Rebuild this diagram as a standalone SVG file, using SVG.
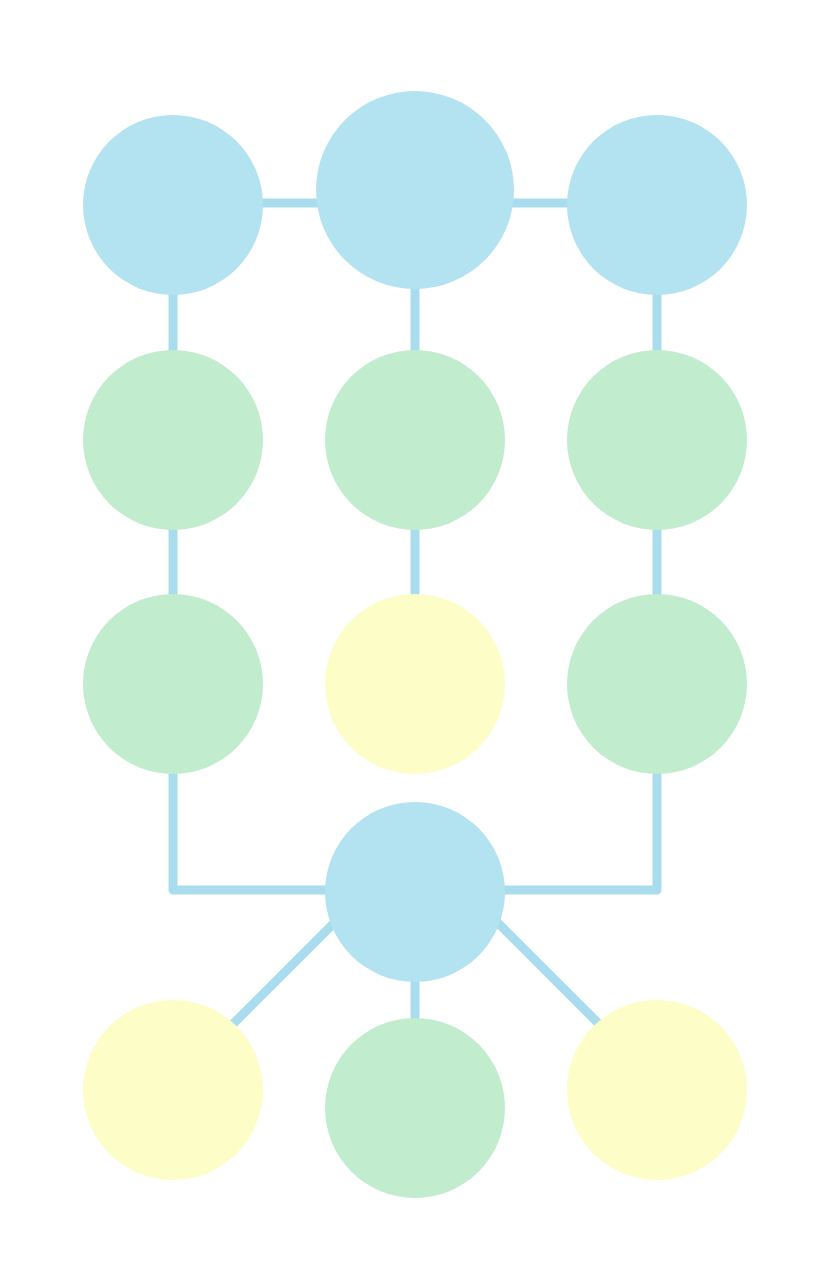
<svg xmlns="http://www.w3.org/2000/svg" width="832" height="1280" viewBox="0 0 832 1280">
<style>
.c{fill:none;stroke:#A9DDEE;stroke-width:9;stroke-linecap:round;stroke-linejoin:round}
.b{fill:#B3E2F1}
.g{fill:#C1ECCD}
.y{fill:#FDFDC8}
</style>
<rect width="832" height="1280" fill="#FFFFFF"/>
<g id="connectors">
<line class="c" x1="173" y1="203" x2="657" y2="203"/>
<line class="c" x1="173" y1="205" x2="173" y2="684"/>
<line class="c" x1="415" y1="190" x2="415" y2="684"/>
<line class="c" x1="657" y1="205" x2="657" y2="684"/>
<polyline class="c" points="173,684 173,890 657,890 657,684"/>
<line class="c" x1="415" y1="892" x2="415" y2="1108"/>
<line class="c" x1="225" y1="1032" x2="345" y2="912"/>
<line class="c" x1="607" y1="1032" x2="487" y2="912"/>
</g>
<g id="n1"><circle class="b" cx="173" cy="205" r="90"/></g>
<g id="n2"><circle class="b" cx="415" cy="190" r="99"/></g>
<g id="n3"><circle class="b" cx="657" cy="205" r="90"/></g>
<g id="n4"><circle class="g" cx="173" cy="440" r="90"/></g>
<g id="n5"><circle class="g" cx="415" cy="440" r="90"/></g>
<g id="n6"><circle class="g" cx="657" cy="440" r="90"/></g>
<g id="n7"><circle class="g" cx="173" cy="684" r="90"/></g>
<g id="n8"><circle class="y" cx="415" cy="684" r="90"/></g>
<g id="n9"><circle class="g" cx="657" cy="684" r="90"/></g>
<g id="n10"><circle class="b" cx="415" cy="892" r="90"/></g>
<g id="n11"><circle class="y" cx="173" cy="1090" r="90"/></g>
<g id="n12"><circle class="g" cx="415" cy="1108" r="90"/></g>
<g id="n13"><circle class="y" cx="657" cy="1090" r="90"/></g>
</svg>
